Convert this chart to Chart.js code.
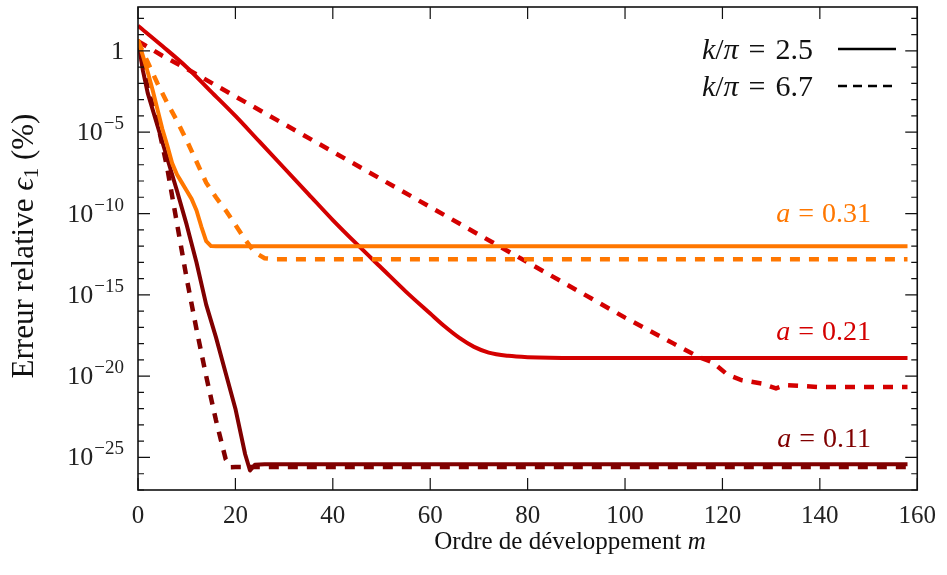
<!DOCTYPE html>
<html lang="fr">
<head>
<meta charset="UTF-8">
<title>Erreur relative</title>
<script src="https://cdn.jsdelivr.net/npm/chart.js"></script>
<style>
  html, body { margin: 0; padding: 0; background: #fff; }
  #wrap { width: 947px; height: 575px; }
</style>
</head>
<body>
<div id="wrap"><canvas id="chart" width="947" height="575"></canvas></div>
<script>
// ordre m, and log10 of the relative error (%)
const mA031k25 = [0, 1, 2, 3, 4, 5, 6, 7, 8, 9, 10, 11, 12, 13, 14, 15, 16, 20, 40, 80, 120, 158];
const eA031k25 = [0.7, -0.3, -1.3, -2.4, -3.6, -4.8, -5.8, -6.9, -7.6, -8.1, -8.6, -9.1, -9.8, -10.8, -11.7, -12.0, -12.01, -12.01, -12.01, -12.01, -12.01, -12.01];

const mA031k67 = [0, 2, 4, 6, 8, 10, 12, 14, 16, 18, 20, 22, 24, 26, 28, 40, 80, 120, 158];
const eA031k67 = [0.6, -0.7, -2.0, -3.2, -4.3, -5.5, -6.8, -8.1, -9.0, -9.8, -10.7, -11.6, -12.4, -12.75, -12.81, -12.81, -12.81, -12.81, -12.81];

const mA021k25 = [0, 5, 10, 15, 20, 25, 30, 35, 40, 45, 50, 55, 60, 63, 66, 69, 72, 76, 80, 90, 100, 120, 140, 158];
const eA021k25 = [1.55, 0.3, -1.0, -2.5, -4.0, -5.6, -7.2, -8.8, -10.4, -11.9, -13.35, -14.8, -16.15, -16.95, -17.65, -18.2, -18.55, -18.75, -18.83, -18.88, -18.88, -18.88, -18.88, -18.88];

const mA021k67 = [0, 5, 10, 20, 30, 40, 50, 60, 70, 80, 90, 100, 105, 110, 115, 118, 121, 124, 128, 131, 133, 136, 140, 150, 158];
const eA021k67 = [0.6, -0.3, -1.1, -2.8, -4.5, -6.2, -7.9, -9.6, -11.3, -13.0, -14.7, -16.4, -17.2, -18.0, -18.8, -19.15, -19.9, -20.25, -20.45, -20.75, -20.55, -20.6, -20.67, -20.67, -20.67];

const mA011k25 = [0, 1, 2, 4, 6, 8, 10, 12, 14, 16, 18, 20, 22, 23, 24, 26, 40, 80, 120, 158];
const eA011k25 = [0.7, -1.2, -2.6, -4.6, -6.6, -8.6, -10.7, -13.0, -15.6, -17.6, -19.8, -22.0, -24.8, -25.8, -25.45, -25.41, -25.41, -25.41, -25.41, -25.41];

const mA011k67 = [0, 2, 4, 6, 8, 10, 12, 14, 16, 18, 19, 20, 40, 80, 120, 158];
const eA011k67 = [0.6, -2.3, -4.4, -7.2, -10.6, -14.0, -17.1, -20.0, -22.7, -25.1, -25.6, -25.59, -25.59, -25.59, -25.59, -25.59];

const xTicks = [0, 20, 40, 60, 80, 100, 120, 140, 160];
const yLabelExps = [0, -5, -10, -15, -20, -25];
const legendTexts = ['2.5', '6.7'];

const ORANGE = '#ff7700', RED = '#d40000', DARK = '#800000';
const SERIF = '"Liberation Serif", "DejaVu Serif", serif';

// curve labels: "a = ..." right end at m, baseline at 10^lvl
const curveLabels = [
  { text: '0.31', m: 150.5, lvl: -10.53, color: ORANGE },
  { text: '0.21', m: 150.5, lvl: -17.78, color: RED },
  { text: '0.11', m: 150.5, lvl: -24.36, color: DARK }
];

function pts(m, e) {
  return m.map((v, i) => ({ x: v, y: Math.pow(10, e[i]) }));
}

function solid(m, e, color, smooth) {
  return { data: pts(m, e), borderColor: color, borderWidth: 4, pointRadius: 0,
           cubicInterpolationMode: smooth ? 'monotone' : 'default', tension: 0,
           fill: false, borderJoinStyle: 'round' };
}
function dashed(m, e, color) {
  return { data: pts(m, e), borderColor: color, borderWidth: 4.5, pointRadius: 0,
           tension: 0, fill: false, borderDash: [10, 9], borderCapStyle: 'butt' };
}

// runs: {t: text, f: font, dy: shift, g: extra gap after}
function runsWidth(ctx, runs) {
  let w = 0;
  runs.forEach(r => { ctx.font = r.f; w += ctx.measureText(r.t).width + (r.g || 0); });
  return w;
}
function drawRuns(ctx, runs, x, y, align) {
  const w = runsWidth(ctx, runs);
  let cx = align === 'right' ? x - w : align === 'center' ? x - w / 2 : x;
  runs.forEach(r => {
    ctx.font = r.f;
    ctx.fillText(r.t, cx, y + (r.dy || 0));
    cx += ctx.measureText(r.t).width + (r.g || 0);
  });
}

const decor = {
  id: 'decor',
  afterDatasetsDraw(chart) {
    const { ctx, chartArea: a, scales: { x, y } } = chart;
    ctx.save();
    ctx.strokeStyle = '#111';
    ctx.lineWidth = 1.6;
    ctx.strokeRect(a.left, a.top, a.right - a.left, a.bottom - a.top);

    ctx.lineWidth = 1.2;
    ctx.beginPath();
    for (let e = -27; e <= 2; e++) {
      const py = y.getPixelForValue(Math.pow(10, e));
      const len = e % 5 === 0 ? 12 : 6;
      ctx.moveTo(a.left, py); ctx.lineTo(a.left + len, py);
      ctx.moveTo(a.right, py); ctx.lineTo(a.right - len, py);
    }
    xTicks.forEach(v => {
      const px = x.getPixelForValue(v);
      ctx.moveTo(px, a.bottom); ctx.lineTo(px, a.bottom - 12);
      ctx.moveTo(px, a.top); ctx.lineTo(px, a.top + 12);
    });
    ctx.stroke();

    // y tick labels 1, 10^-5 ...
    ctx.fillStyle = '#222';
    ctx.textBaseline = 'alphabetic';
    ctx.textAlign = 'left';
    const base = '26px ' + SERIF, sup = '19px ' + SERIF;
    yLabelExps.forEach(e => {
      const py = y.getPixelForValue(Math.pow(10, e)) + 8;
      if (e === 0) drawRuns(ctx, [{ t: '1', f: base }], 124, py, 'right');
      else drawRuns(ctx, [{ t: '10', f: base, g: 1 }, { t: '\u2212' + (-e), f: sup, dy: -11 }], 124, py, 'right');
    });

    // axis titles
    ctx.fillStyle = '#111';
    const rm25 = '25px ' + SERIF, it25 = 'italic 25px ' + SERIF;
    drawRuns(ctx, [{ t: 'Ordre de d\u00e9veloppement ', f: rm25 }, { t: 'm', f: it25 }], 570, 549, 'center');

    ctx.save();
    ctx.translate(33, 246);
    ctx.rotate(-Math.PI / 2);
    const rm31 = '31px ' + SERIF, it31 = 'italic 31px ' + SERIF;
    drawRuns(ctx, [{ t: 'Erreur relative ', f: rm31 }, { t: '\u03f5', f: it31 },
                   { t: '1', f: '21px ' + SERIF, dy: 5 }, { t: ' (%)', f: rm31 }], 0, 0, 'center');
    ctx.restore();

    // legend
    const rm30 = '30px ' + SERIF, it30 = 'italic 30px ' + SERIF;
    const lg = [49, 86];
    legendTexts.forEach((t, i) => {
      ctx.fillStyle = '#111';
      drawRuns(ctx, [{ t: 'k', f: it30 }, { t: '/', f: rm30 }, { t: '\u03c0', f: it30, g: 10 },
                     { t: '=', f: rm30, g: 10 }, { t: t, f: rm30 }], 813, lg[i] + 10, 'right');
      ctx.strokeStyle = '#000';
      ctx.lineWidth = 2.4;
      ctx.setLineDash(i === 0 ? [] : [9, 6]);
      ctx.beginPath();
      ctx.moveTo(838, lg[i]); ctx.lineTo(896, lg[i]);
      ctx.stroke();
    });
    ctx.setLineDash([]);

    // curve labels
    const rm28 = '28px ' + SERIF, it28 = 'italic 28px ' + SERIF;
    curveLabels.forEach(l => {
      ctx.fillStyle = l.color;
      drawRuns(ctx, [{ t: 'a', f: it28, g: 8 }, { t: '=', f: rm28, g: 8 }, { t: l.text, f: rm28 }],
        x.getPixelForValue(l.m), y.getPixelForValue(Math.pow(10, l.lvl)), 'right');
    });
    ctx.restore();
  }
};

new Chart(document.getElementById('chart').getContext('2d'), {
  type: 'line',
  data: {
    datasets: [
      solid(mA031k25, eA031k25, ORANGE),
      dashed(mA031k67, eA031k67, ORANGE),
      solid(mA021k25, eA021k25, RED, true),
      dashed(mA021k67, eA021k67, RED),
      solid(mA011k25, eA011k25, DARK),
      dashed(mA011k67, eA011k67, DARK)
    ]
  },
  options: {
    responsive: false,
    animation: false,
    devicePixelRatio: 1,
    layout: { padding: { left: 0, top: 7, right: 22, bottom: 0 } },
    plugins: { legend: { display: false }, tooltip: { enabled: false } },
    scales: {
      x: {
        type: 'linear', min: 0, max: 160,
        grid: { display: false, drawTicks: false },
        border: { display: false },
        afterBuildTicks: s => { s.ticks = xTicks.map(v => ({ value: v })); },
        afterFit: s => { s.height = 85; },
        ticks: { font: { family: SERIF, size: 25 }, color: '#222', padding: 11,
                 maxRotation: 0, autoSkip: false }
      },
      y: {
        type: 'logarithmic', min: 1e-27, max: Math.pow(10, 2.7),
        grid: { display: false },
        border: { display: false },
        ticks: { display: false },
        afterFit: s => { s.width = 138; }
      }
    }
  },
  plugins: [decor]
});
</script>
</body>
</html>
